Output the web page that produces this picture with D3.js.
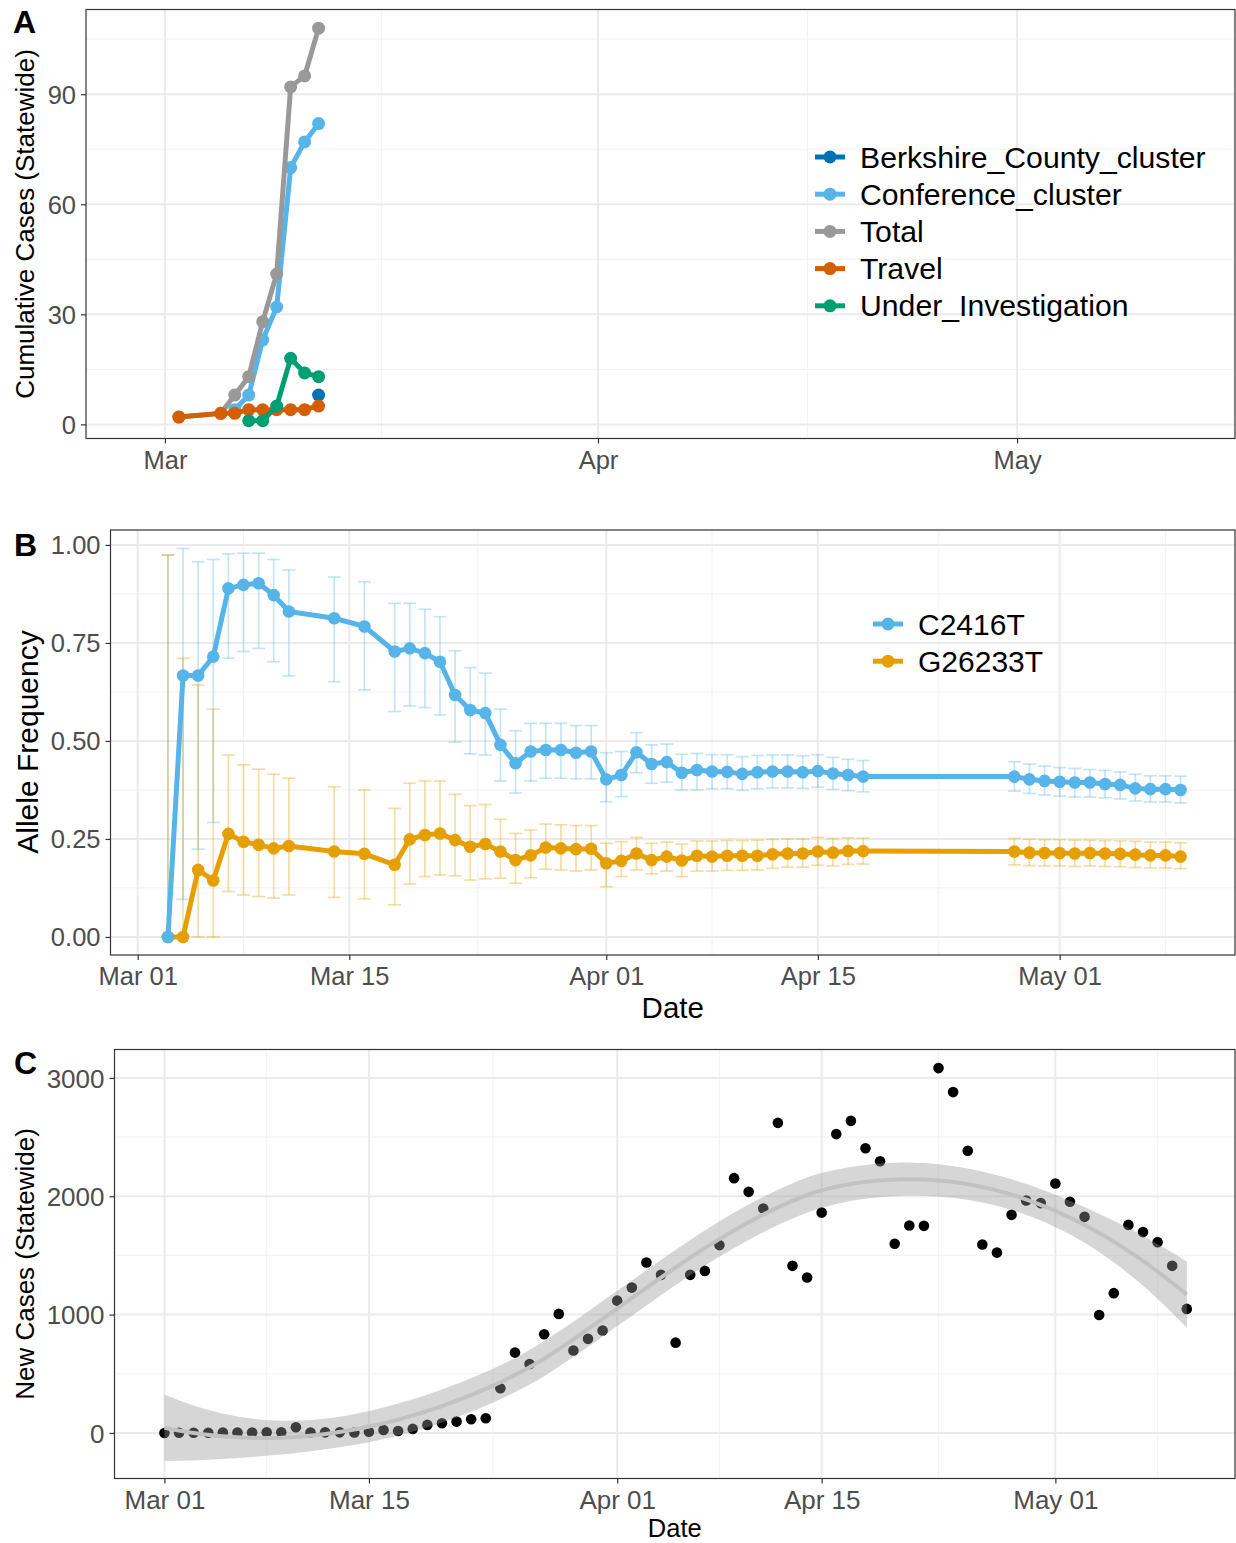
<!DOCTYPE html>
<html><head><meta charset="utf-8">
<script src="https://cdn.jsdelivr.net/npm/d3@7"></script>
<style>
body{margin:0;background:#fff}
svg{display:block}
text{font-family:"Liberation Sans", Arial, Helvetica, sans-serif}
</style>
</head><body>
<svg id="chart" width="1236" height="1543"></svg>
<script>
// ---------------- Panel A data ----------------
const aDates = ["2020-03-02","2020-03-05","2020-03-06","2020-03-07","2020-03-08","2020-03-09","2020-03-10","2020-03-11","2020-03-12"];
const aSeriesNames = ["Berkshire_County_cluster","Conference_cluster","Total","Travel","Under_Investigation"];
const aBerkshire = [null,null,null,null,null,null,null,null,8];
const aConference = [null,null,4,8,23,32,70,77,82];
const aTotal = [2,3,8,13,28,41,92,95,108];
const aTravel = [2,3,3,4,4,4,4,4,5];
const aUnderInv = [null,null,null,1,1,5,18,14,13];
const aColors = ["#0072B2","#56B4E9","#999999","#D55E00","#009E73"];
const aYTicks = [0,30,60,90];
const aXTicks = ["2020-03-01","2020-04-01","2020-05-01"];
const aXTickLabels = ["Mar","Apr","May"];

// ---------------- Panel B data ----------------
const bDates = ["2020-03-03","2020-03-04","2020-03-05","2020-03-06","2020-03-07","2020-03-08","2020-03-09","2020-03-10","2020-03-11",
"2020-03-14","2020-03-16","2020-03-18","2020-03-19","2020-03-20","2020-03-21","2020-03-22","2020-03-23","2020-03-24","2020-03-25",
"2020-03-26","2020-03-27","2020-03-28","2020-03-29","2020-03-30","2020-03-31","2020-04-01","2020-04-02","2020-04-03","2020-04-04",
"2020-04-05","2020-04-06","2020-04-07","2020-04-08","2020-04-09","2020-04-10","2020-04-11","2020-04-12","2020-04-13","2020-04-14",
"2020-04-15","2020-04-16","2020-04-17","2020-04-18","2020-04-28","2020-04-29","2020-04-30","2020-05-01","2020-05-02","2020-05-03",
"2020-05-04","2020-05-05","2020-05-06","2020-05-07","2020-05-08","2020-05-09"];
const bC2416T = [0.000,0.667,0.667,0.715,0.889,0.898,0.902,0.872,0.830,
0.813,0.792,0.728,0.736,0.724,0.702,0.617,0.579,0.571,0.490,
0.443,0.473,0.477,0.477,0.470,0.473,0.402,0.413,0.471,0.441,
0.446,0.419,0.426,0.422,0.421,0.416,0.420,0.422,0.422,0.420,
0.423,0.417,0.413,0.409,0.409,0.402,0.398,0.396,0.394,0.394,
0.390,0.388,0.379,0.377,0.377,0.375];
const bC2416TLow = [0.000,0.096,0.224,0.292,0.711,0.728,0.736,0.702,0.666,
0.651,0.630,0.575,0.589,0.585,0.566,0.497,0.467,0.464,0.398,
0.367,0.398,0.405,0.405,0.403,0.403,0.345,0.358,0.419,0.392,
0.395,0.375,0.375,0.378,0.378,0.374,0.378,0.380,0.380,0.379,
0.382,0.376,0.373,0.370,0.372,0.366,0.362,0.359,0.357,0.357,
0.355,0.352,0.347,0.344,0.344,0.342];
const bC2416THigh = [0.974,0.991,0.957,0.963,0.977,0.979,0.979,0.963,0.936,
0.918,0.906,0.851,0.851,0.836,0.817,0.730,0.687,0.673,0.581,
0.526,0.545,0.545,0.545,0.539,0.539,0.470,0.473,0.521,0.490,
0.492,0.466,0.468,0.465,0.465,0.460,0.463,0.464,0.464,0.462,
0.465,0.458,0.453,0.450,0.447,0.441,0.436,0.432,0.430,0.427,
0.425,0.421,0.415,0.411,0.411,0.410];
const bG26233T = [0.000,0.000,0.171,0.144,0.263,0.243,0.235,0.226,0.232,
0.218,0.212,0.184,0.249,0.260,0.264,0.247,0.230,0.237,0.218,
0.196,0.208,0.228,0.226,0.224,0.225,0.188,0.194,0.213,0.196,
0.205,0.195,0.207,0.205,0.207,0.207,0.207,0.211,0.213,0.213,
0.218,0.215,0.219,0.219,0.218,0.215,0.214,0.214,0.213,0.214,
0.213,0.212,0.210,0.208,0.208,0.205];
const bG26233TLow = [0.000,0.000,0.000,0.000,0.116,0.107,0.103,0.099,0.107,
0.101,0.097,0.082,0.135,0.154,0.158,0.156,0.145,0.148,0.150,
0.137,0.151,0.173,0.171,0.168,0.171,0.128,0.154,0.171,0.161,
0.168,0.154,0.168,0.168,0.170,0.170,0.171,0.175,0.178,0.178,
0.183,0.181,0.185,0.186,0.184,0.182,0.181,0.181,0.180,0.181,
0.180,0.179,0.177,0.176,0.176,0.174];
const bG26233THigh = [0.974,0.711,0.643,0.581,0.464,0.439,0.428,0.415,0.405,
0.383,0.375,0.328,0.392,0.398,0.398,0.364,0.335,0.338,0.300,
0.264,0.273,0.288,0.286,0.284,0.284,0.239,0.243,0.254,0.239,
0.242,0.237,0.245,0.245,0.246,0.246,0.247,0.249,0.250,0.250,
0.254,0.251,0.253,0.252,0.251,0.249,0.248,0.248,0.247,0.247,
0.246,0.245,0.244,0.242,0.242,0.240];
const bSeriesNames = ["C2416T","G26233T"];
const bColors = ["#56B4E9","#E69F00"];
const bYTicks = [0,0.25,0.5,0.75,1.0];
const bYTickLabels = ["0.00","0.25","0.50","0.75","1.00"];
const bcXTicks = ["2020-03-01","2020-03-15","2020-04-01","2020-04-15","2020-05-01"];
const bcXTickLabels = ["Mar 01","Mar 15","Apr 01","Apr 15","May 01"];

// ---------------- Panel C data ----------------
const cStartDate = "2020-03-01";
const cNewCases = [0,1,1,1,3,3,3,5,5,48,4,5,5,4,11,25,17,34,68,82,96,116,124,378,
679,583,834,1006,696,795,865,1118,1228,1440,1336,763,1336,1369,1587,2153,2037,1896,2620,1412,1313,1862,2525,2637,
2406,2296,1598,1753,1750,3083,2880,2384,1592,1524,1843,1964,1942,2108,1953,1826,997,1181,1758,1697,1612,1412,1048];
const cYTicks = [0,1000,2000,3000];

// ---------------- helpers ----------------
const svg = d3.select("#chart");
const parse = d3.utcParse("%Y-%m-%d");
const DAY = 864e5;
const GRID = "#ebebeb", GRIDMINOR = "#f3f3f3", BORDER = "#333333", TICKTXT = "#4d4d4d";

function addDays(d, n){ return new Date(d.getTime() + n*DAY); }

function panelFrame(g, x, y, box, xMajors, xMinors, yMajors, yMinors){
  g.append("rect").attr("x", box.x0).attr("y", box.y0).attr("width", box.x1-box.x0).attr("height", box.y1-box.y0).attr("fill","#fff");
  const grid = g.append("g");
  yMinors.forEach(v => { const py = y(v); if (py>box.y0 && py<box.y1) grid.append("line").attr("x1",box.x0).attr("x2",box.x1).attr("y1",py).attr("y2",py).attr("stroke",GRIDMINOR).attr("stroke-width",1.2); });
  xMinors.forEach(v => { const px = x(v); if (px>box.x0 && px<box.x1) grid.append("line").attr("x1",px).attr("x2",px).attr("y1",box.y0).attr("y2",box.y1).attr("stroke",GRIDMINOR).attr("stroke-width",1.2); });
  yMajors.forEach(v => { const py = y(v); grid.append("line").attr("x1",box.x0).attr("x2",box.x1).attr("y1",py).attr("y2",py).attr("stroke",GRID).attr("stroke-width",2); });
  xMajors.forEach(v => { const px = x(v); grid.append("line").attr("x1",px).attr("x2",px).attr("y1",box.y0).attr("y2",box.y1).attr("stroke",GRID).attr("stroke-width",2); });
}
function panelBorder(g, box){
  g.append("rect").attr("x", box.x0).attr("y", box.y0).attr("width", box.x1-box.x0).attr("height", box.y1-box.y0)
    .attr("fill","none").attr("stroke",BORDER).attr("stroke-width",1.2);
}
function axes(g, x, y, box, xTicks, xLabels, yTicks, yLabels, fs, xLabY){
  const xa = d3.axisBottom(x).tickValues(xTicks).tickFormat((d,i)=>xLabels[i]).tickSize(5).tickPadding(6);
  const gx = g.append("g").attr("transform",`translate(0,${box.y1})`).call(xa);
  gx.select(".domain").remove();
  gx.selectAll(".tick line").attr("stroke",BORDER).attr("stroke-width",1.2);
  gx.selectAll(".tick text").attr("fill",TICKTXT).style("font-size",fs+"px").attr("y", xLabY).attr("dy","0.71em");
  const ya = d3.axisLeft(y).tickValues(yTicks).tickFormat((d,i)=>yLabels[i]).tickSize(5).tickPadding(5);
  const gy = g.append("g").attr("transform",`translate(${box.x0},0)`).call(ya);
  gy.select(".domain").remove();
  gy.selectAll(".tick line").attr("stroke",BORDER).attr("stroke-width",1.2);
  gy.selectAll(".tick text").attr("fill",TICKTXT).style("font-size",fs+"px").attr("dy","0.35em");
}
function majorMinorDates(ticks){
  const t = ticks.map(parse);
  const bd = t[1]-t[0];
  const ext = [new Date(t[0]-bd), ...t, new Date(+t[t.length-1]+bd)];
  const mins = [];
  for (let i=0;i<ext.length-1;i++) mins.push(new Date((+ext[i] + +ext[i+1])/2));
  return mins;
}
function panelLabel(text, x, y){
  svg.append("text").attr("x",x).attr("y",y).text(text).style("font-size","32px").style("font-weight","bold").attr("fill","#000");
}
function yTitle(text, x, cy, fs){
  svg.append("text").attr("transform",`translate(${x},${cy}) rotate(-90)`).attr("text-anchor","middle").attr("dy","0.35em")
    .style("font-size",fs+"px").attr("fill","#000").text(text);
}
function solve(A){ // invert small square matrix
  const P = A.length;
  const M = A.map((r,i)=>[...r, ...Array.from({length:P},(_,j)=>i===j?1:0)]);
  for (let i=0;i<P;i++){
    let piv=i; for (let r=i+1;r<P;r++) if (Math.abs(M[r][i])>Math.abs(M[piv][i])) piv=r;
    [M[i],M[piv]]=[M[piv],M[i]];
    const s=M[i][i]; for (let j=0;j<2*P;j++) M[i][j]/=s;
    for (let r=0;r<P;r++) if (r!==i){ const f=M[r][i]; for (let j=0;j<2*P;j++) M[r][j]-=f*M[i][j]; }
  }
  return M.map(r=>r.slice(P));
}

// ================= PANEL A =================
(function(){
  const box = {x0:86, x1:1235, y0:9.5, y1:438.5};
  const mar1 = parse("2020-03-01");
  const x = d3.scaleUtc().domain([addDays(mar1,-5.65), addDays(mar1,76.6)]).range([box.x0, box.x1]);
  const y = d3.scaleLinear().domain([-3.85, 113.1]).range([box.y1, box.y0]);
  const g = svg.append("g");
  const xMaj = aXTicks.map(parse);
  const xMin = [];
  const ext = [parse("2020-02-01"), ...xMaj, parse("2020-06-01")];
  for (let i=0;i<ext.length-1;i++) xMin.push(new Date((+ext[i] + +ext[i+1])/2));
  panelFrame(g, x, y, box, xMaj, xMin, aYTicks, [15,45,75,105]);
  const series = [aBerkshire, aConference, aTotal, aTravel, aUnderInv];
  const dates = aDates.map(parse);
  const line = d3.line().defined(d=>d.v!=null).x(d=>x(d.d)).y(d=>y(d.v));
  series.forEach((vals, si) => {
    const pts = vals.map((v,i)=>({d:dates[i], v}));
    g.append("path").datum(pts).attr("d", line).attr("fill","none").attr("stroke",aColors[si]).attr("stroke-width",5).attr("stroke-linejoin","round");
    g.selectAll(null).data(pts.filter(p=>p.v!=null)).enter().append("circle")
      .attr("cx",p=>x(p.d)).attr("cy",p=>y(p.v)).attr("r",6.5).attr("fill",aColors[si]);
  });
  panelBorder(g, box);
  axes(g, x, y, box, xMaj, aXTickLabels, aYTicks, aYTicks.map(String), 25.5, 12);
  const lg = g.append("g");
  aSeriesNames.forEach((nm, i) => {
    const ly = 157 + i*37.2;
    lg.append("line").attr("x1",815).attr("x2",845).attr("y1",ly).attr("y2",ly).attr("stroke",aColors[i]).attr("stroke-width",5);
    lg.append("circle").attr("cx",830).attr("cy",ly).attr("r",6.5).attr("fill",aColors[i]);
    lg.append("text").attr("x",860).attr("y",ly).attr("dy","0.35em").style("font-size","30.2px").attr("fill","#000").text(nm);
  });
  yTitle("Cumulative Cases (Statewide)", 25, 224, 26);
  panelLabel("A", 13, 33);
})();

// ================= PANEL B =================
(function(){
  const box = {x0:110.5, x1:1235, y0:530, y1:955};
  const mar1 = parse("2020-03-01");
  const x = d3.scaleUtc().domain([addDays(mar1,-1.8), addDays(mar1,72.6)]).range([box.x0, box.x1]);
  const y = d3.scaleLinear().domain([-0.046, 1.038]).range([box.y1, box.y0]);
  const g = svg.append("g");
  const xMaj = bcXTicks.map(parse);
  panelFrame(g, x, y, box, xMaj, majorMinorDates(bcXTicks), bYTicks, [0.125,0.375,0.625,0.875]);
  const dates = bDates.map(parse);
  const vals = [bC2416T, bG26233T], lows = [bC2416TLow, bG26233TLow], highs = [bC2416THigh, bG26233THigh];
  [0,1].forEach(si => {
    const eg = g.append("g").attr("stroke", bColors[si]).attr("stroke-opacity",0.35).attr("stroke-width",1.7).attr("fill","none");
    dates.forEach((d,i) => {
      const px = x(d), y1 = y(lows[si][i]), y2 = y(highs[si][i]);
      eg.append("line").attr("x1",px).attr("x2",px).attr("y1",y1).attr("y2",y2);
      eg.append("line").attr("x1",px-6.5).attr("x2",px+6.5).attr("y1",y1).attr("y2",y1);
      eg.append("line").attr("x1",px-6.5).attr("x2",px+6.5).attr("y1",y2).attr("y2",y2);
    });
  });
  const line = d3.line().x(d=>x(d.d)).y(d=>y(d.v));
  [1,0].forEach(si => {
    const pts = vals[si].map((v,i)=>({d:dates[i], v}));
    g.append("path").datum(pts).attr("d", line).attr("fill","none").attr("stroke",bColors[si]).attr("stroke-width",5).attr("stroke-linejoin","round");
    g.selectAll(null).data(pts).enter().append("circle").attr("cx",p=>x(p.d)).attr("cy",p=>y(p.v)).attr("r",6.3).attr("fill",bColors[si]);
  });
  panelBorder(g, box);
  axes(g, x, y, box, xMaj, bcXTickLabels, bYTicks, bYTickLabels, 25.5, 12);
  const lg = g.append("g");
  bSeriesNames.forEach((nm, i) => {
    const ly = 624 + i*37.2;
    lg.append("line").attr("x1",873).attr("x2",903).attr("y1",ly).attr("y2",ly).attr("stroke",bColors[i]).attr("stroke-width",5);
    lg.append("circle").attr("cx",888).attr("cy",ly).attr("r",6.5).attr("fill",bColors[i]);
    lg.append("text").attr("x",918).attr("y",ly).attr("dy","0.35em").style("font-size","30px").attr("fill","#000").text(nm);
  });
  svg.append("text").attr("x", (box.x0+box.x1)/2).attr("y",1018).attr("text-anchor","middle").style("font-size","29.5px").attr("fill","#000").text("Date");
  yTitle("Allele Frequency", 27, 742, 30);
  panelLabel("B", 14, 556);
})();

// ================= PANEL C =================
(function(){
  const box = {x0:114.5, x1:1235, y0:1049.5, y1:1478.5};
  const mar1 = parse(cStartDate);
  const x = d3.scaleUtc().domain([addDays(mar1,-3.42), addDays(mar1,73.3)]).range([box.x0, box.x1]);
  const y = d3.scaleLinear().domain([-385, 3240]).range([box.y1, box.y0]);
  const g = svg.append("g");
  const xMaj = bcXTicks.map(parse);
  panelFrame(g, x, y, box, xMaj, majorMinorDates(bcXTicks), cYTicks, [-500,500,1500,2500,3500]);
  const pts = cNewCases.map((v,i)=>({t:i, d:addDays(mar1,i), v}));
  g.selectAll(null).data(pts).enter().append("circle").attr("cx",p=>x(p.d)).attr("cy",p=>y(p.v)).attr("r",5.3).attr("fill","#000");

  // LOESS smoother (span 0.75, degree 2) with 95% confidence band, as ggplot2 geom_smooth()
  const n = pts.length, span = 0.75, q = Math.floor(n*span);
  const xs = pts.map(p=>p.t), ys = pts.map(p=>p.v);
  function lvec(x0){
    const dist = xs.map(xi=>Math.abs(xi-x0));
    const h = dist.slice().sort((a,b)=>a-b)[q-1];
    const w = dist.map(d => d<h ? Math.pow(1-Math.pow(d/h,3),3) : 0);
    const feats = xs.map(xi => [1, xi-x0, (xi-x0)*(xi-x0)]);
    const A = [[0,0,0],[0,0,0],[0,0,0]];
    feats.forEach((f,i)=>{ for (let a=0;a<3;a++) for (let b=0;b<3;b++) A[a][b]+=w[i]*f[a]*f[b]; });
    const inv = solve(A);
    return feats.map((f,i)=> w[i]*(inv[0][0]*f[0]+inv[0][1]*f[1]+inv[0][2]*f[2]));
  }
  const L = xs.map(lvec);
  const fitted = L.map(r=>r.reduce((s,v,j)=>s+v*ys[j],0));
  const res = ys.map((v,i)=>v-fitted[i]);
  let oneDelta = 0, twoDelta = 0;
  const IL = L.map((r,i)=>r.map((v,j)=>(i===j?1:0)-v));
  const Q = Array.from({length:n},()=>Array(n).fill(0));
  for (let i=0;i<n;i++) for (let j=0;j<n;j++){ let s=0; for (let k=0;k<n;k++) s+=IL[k][i]*IL[k][j]; Q[i][j]=s; }
  for (let i=0;i<n;i++){ oneDelta += Q[i][i]; for (let j=0;j<n;j++) twoDelta += Q[i][j]*Q[j][i]; }
  const sigma = Math.sqrt(res.reduce((s,r)=>s+r*r,0)/oneDelta);
  const dfRes = oneDelta*oneDelta/twoDelta;
  const tq = 1.96 + 2.4/dfRes;
  const grid = d3.range(80).map(k => {
    const t = 70*k/79, l = lvec(t);
    const fit = l.reduce((s,v,j)=>s+v*ys[j],0);
    const se = sigma*Math.sqrt(l.reduce((s,v)=>s+v*v,0));
    return {d:addDays(mar1,t), fit, lo:fit-tq*se, hi:fit+tq*se};
  });
  g.append("path").datum(grid).attr("d", d3.area().x(d=>x(d.d)).y0(d=>y(d.lo)).y1(d=>y(d.hi)))
    .attr("fill","#999999").attr("fill-opacity",0.4);
  g.append("path").datum(grid).attr("d", d3.line().x(d=>x(d.d)).y(d=>y(d.fit)))
    .attr("fill","none").attr("stroke","#c2c2c2").attr("stroke-width",4);
  panelBorder(g, box);
  axes(g, x, y, box, xMaj, bcXTickLabels, cYTicks, cYTicks.map(String), 26, 12);
  svg.append("text").attr("x", (box.x0+box.x1)/2).attr("y",1536.5).attr("text-anchor","middle").style("font-size","25.5px").attr("fill","#000").text("Date");
  yTitle("New Cases (Statewide)", 25, 1264, 26);
  panelLabel("C", 14, 1074);
})();
</script>
</body></html>
